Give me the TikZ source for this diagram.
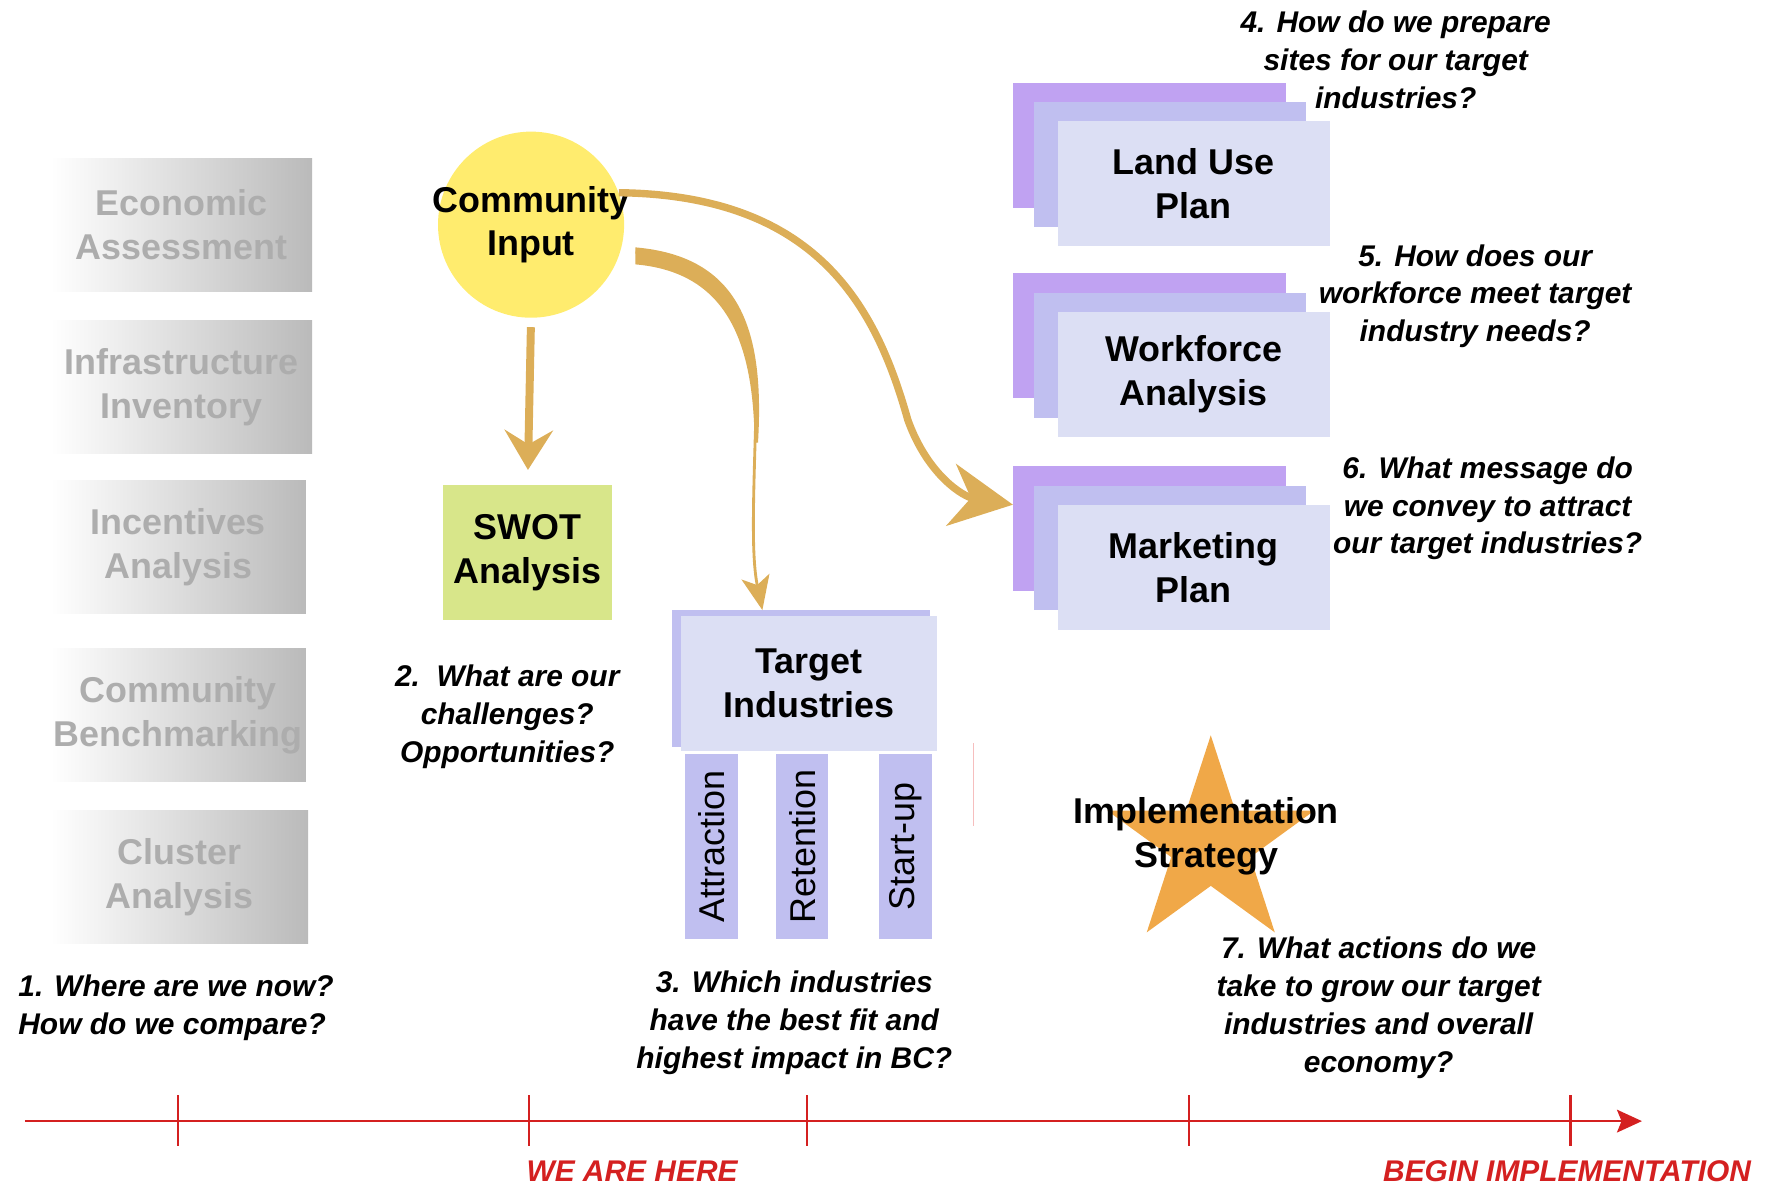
\documentclass[tikz,border=0pt]{standalone}
\usepackage{fontspec}
\setmainfont{Liberation Sans}
\usetikzlibrary{arrows.meta, shapes.geometric, calc}
\definecolor{goldarrow}{RGB}{220,174,88}
\definecolor{lilac}{RGB}{192,162,242}
\definecolor{lavend}{RGB}{192,191,240}
\definecolor{paleblue}{RGB}{220,223,244}
\definecolor{swotgreen}{RGB}{216,230,138}
\definecolor{sunyellow}{RGB}{255,236,110}
\definecolor{starorange}{RGB}{240,168,72}
\definecolor{timered}{RGB}{212,32,32}
\definecolor{pinkline}{RGB}{246,190,190}
\tikzset{
    boxfont/.style={font=\bfseries\fontsize{18}{22}\selectfont, align=center},
    stagebox/.style={boxfont, minimum width=46mm, minimum height=23.4mm, inner sep=0,
      left color=white, middle color=white, right color=black!27, text=black!32},
    inputcircle/.style={circle, fill=sunyellow, minimum size=32.8mm, inner sep=0},
    swotbox/.style={boxfont, fill=swotgreen, minimum width=29.8mm, minimum height=23.8mm, inner sep=0},
    layerbox/.style={minimum width=48mm, minimum height=22mm, inner sep=0},
    barbox/.style={fill=lavend, minimum width=32.6mm, minimum height=9.2mm, inner sep=0,
      rotate=90, font=\fontsize{18}{22}\selectfont},
    qtext/.style={font=\bfseries\itshape\fontsize{15}{19}\selectfont, align=center},
    redtext/.style={font=\bfseries\itshape\fontsize{15}{19}\selectfont, text=timered},
    goldline/.style={draw=goldarrow, line width=1.4mm},
    timeline/.style={draw=timered, line width=0.45mm}
}
\begin{document}
\begin{tikzpicture}[x=0.2mm, y=-0.2mm]
    \useasboundingbox (0,0) rectangle (1566,1044);

    \node[stagebox] (econ) at (160,198) {Economic\\Assessment};
    \node[stagebox] (infra) at (160,341) {Infrastructure\\Inventory};
    \node[stagebox, minimum width=45mm] (incent) at (157,482) {Incentives\\Analysis};
    \node[stagebox, minimum width=45mm] (bench) at (157,630) {Community\\Benchmarking};
    \node[stagebox, minimum width=45.4mm] (cluster) at (158,773) {Cluster\\Analysis};
    \node[qtext, align=left, anchor=west] (q1) at (10,888) {1. Where are we now?\\How do we compare?};

    \node[inputcircle] (comm) at (468,198) {};
    \node[boxfont] (comm-text) at (comm.center) {Community\\Input};
    \node[swotbox] (swot) at (465,487) {SWOT\\Analysis};
    \node[qtext] (q2) at (447,632) {2.\ \ What are our\\challenges?\\Opportunities?};

    \node[layerbox, fill=lavend, minimum width=45.4mm, minimum height=24mm] (tgt-back) at (706,598) {};
    \node[layerbox, boxfont, fill=paleblue, minimum width=45.2mm, minimum height=23.8mm] (tgt) at (713,602) {Target\\Industries};
    \node[barbox] (attr) at (627,746) {Attraction};
    \node[barbox] (ret) at (707,746) {Retention};
    \node[barbox] (startup) at (798,746) {Start-up};
    \node[qtext] (q3) at (700,901) {3. Which industries\\have the best fit and\\highest impact in BC?};
    \draw[pinkline, line width=0.2mm] (858,655) -- (858,728);

    \foreach \nm/\y/\txt in {land/162/{Land Use\\Plan}, work/330/{Workforce\\Analysis}, mkt/500/{Marketing\\Plan}} {
      \node[layerbox, fill=lilac] (\nm-back) at (1013,\y-34) {};
      \node[layerbox, fill=lavend] (\nm-mid) at (1031,\y-17) {};
      \node[layerbox, boxfont, fill=paleblue] (\nm) at (1052,\y) {\txt};
    }
    \node[qtext] (q4) at (1230,53) {4. How do we prepare\\sites for our target\\industries?};
    \node[qtext] (q5) at (1300,261) {5. How does our\\workforce meet target\\industry needs?};
    \node[qtext] (q6) at (1311,448) {6. What message do\\we convey to attract\\our target industries?};

    \node[star, star points=5, star point ratio=2.618, minimum size=38.4mm, inner sep=0, fill=starorange] (star) at (1067,744) {};
    \node[boxfont] (impl) at (1063,737) {Implementation\\Strategy};
    \node[qtext] (q7) at (1215,888) {7. What actions do we\\take to grow our target\\industries and overall\\economy?};

    \draw[goldline, shorten <=1.6mm, shorten >=2.6mm, -{Stealth[length=7mm, width=8.5mm, inset=2.5mm]}] (comm.south) -- (swot.north);

    \coordinate (tgt-in) at ($(tgt-back.north west)!0.35!(tgt-back.north east)$);
    \fill[goldarrow] (560,218) .. controls (652,226) and (674,290) .. (668,390) -- (665,390) .. controls (664,300) and (640,240) .. (560,233) -- cycle;
    \draw[goldline, line width=0.5mm, shorten <=2.6mm, -{Stealth[length=6mm, width=5mm, inset=1.5mm]}] (comm.-16) .. controls (645,232) and (668,290) .. (666,370) .. controls (664,440) and (662,490) .. (tgt-in);

    \draw[goldline, line width=1.3mm, -{Stealth[length=11mm, width=11mm, inset=3.5mm]}] (comm.20) .. controls (720,172) and (772,270) .. (800,370) .. controls (818,420) and (850,438) .. (mkt-back.170);

    \coordinate (tl-start) at (22,988);
    \coordinate (tl-end) at (1447,988);
    \draw[timeline, -{Stealth[length=4.4mm, width=4mm, inset=0.8mm]}] (tl-start) -- (tl-end);
    \foreach \x in {157,466,711,1048,1384}
      \draw[timeline, line width=0.4mm] (\x,965) -- (\x,1010);
    \node[redtext] (here) at (557,1032) {WE ARE HERE};
    \node[redtext] (begin) at (1381,1032) {BEGIN IMPLEMENTATION};
\end{tikzpicture}
\end{document}
